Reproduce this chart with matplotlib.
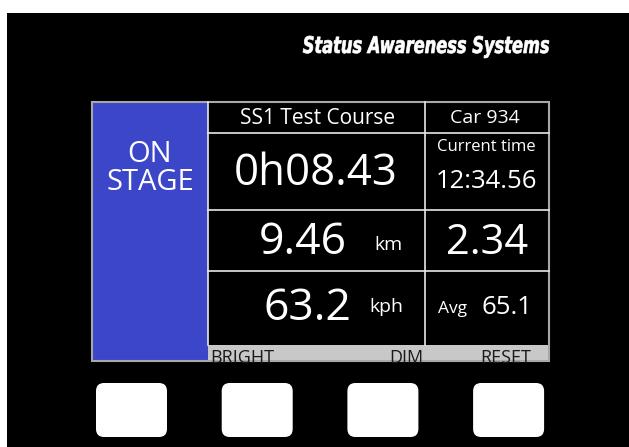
import matplotlib
matplotlib.use("Agg")
import matplotlib.pyplot as plt
from matplotlib.patches import Rectangle, FancyBboxPatch, PathPatch
from matplotlib.textpath import TextPath
from matplotlib.font_manager import FontProperties
from matplotlib.transforms import Affine2D

# dashboard contents
brand = "Status Awareness Systems"
state_lines = ["ON", "STAGE"]
stage_name = "SS1 Test Course"
car_label = "Car 934"
clock_caption = "Current time"
clock_value = "12:34.56"
stage_time = "0h08.43"
distance = "9.46"
distance_unit = "km"
split_value = "2.34"
speed = "63.2"
speed_unit = "kph"
avg_label = "Avg"
avg_speed = "65.1"
soft_keys = ["BRIGHT", "DIM", "RESET"]
n_buttons = 4

W, H = 629, 447
fig = plt.figure(figsize=(W / 100, H / 100), dpi=100)
ax = fig.add_axes([0, 0, 1, 1])
ax.set_xlim(0, W)
ax.set_ylim(H, 0)
ax.axis("off")
fig.patch.set_facecolor("white")

font = "Open Sans"

# black bezel
ax.add_patch(Rectangle((7, 13), W - 7, H - 13, facecolor="black", edgecolor="none"))

# brand logo: condensed bold italic, squeezed into place
fp = FontProperties(family="DejaVu Sans", weight="bold", style="italic")
tp = TextPath((0, 0), brand, size=23, prop=fp)
bb = tp.get_extents()
sx = 246 / bb.width
tr = Affine2D().translate(-bb.x0, 0).scale(sx, -1).translate(303, 53)
ax.add_patch(PathPatch(tr.transform_path(tp), facecolor="white", edgecolor="white",
                       lw=0.5))

# screen frame
left, top, right, bottom = 92, 102, 549, 361
col1, col2 = 208, 425
row1, row2, row3, band = 133, 210, 271, 345

ax.add_patch(Rectangle((left, top), col1 - left, bottom - top, facecolor="#3c46c8",
                       edgecolor="none"))
band_rect = Rectangle((col1, band), right - col1, bottom - band, facecolor="#c8c8c8",
                      edgecolor="none")
ax.add_patch(band_rect)
ax.add_patch(Rectangle((left, top), right - left, bottom - top, facecolor="none",
                       edgecolor="#a8a8a8", lw=1.5))

line_kw = dict(color="#e8e8e8", lw=1.2)
ax.plot([col1, col1], [top, band], **line_kw)
ax.plot([col2, col2], [top, band], **line_kw)
for y in (row1, row2, row3):
    ax.plot([col1, right], [y, y], **line_kw)

tk = dict(color="white", family=font, va="center")
ax.text(150, 154, state_lines[0], fontsize=21, ha="center", **tk)
ax.text(150, 183, state_lines[1], fontsize=21, ha="center", **tk)
ax.text(318, 119, stage_name, fontsize=15, ha="center", **tk)
ax.text(485, 118, car_label, fontsize=14, ha="center", **tk)
ax.text(486, 147, clock_caption, fontsize=12, ha="center", **tk)
ax.text(486, 182, clock_value, fontsize=18.5, ha="center", **tk)
ax.text(316, 174, stage_time, fontsize=31.5, ha="center", **tk)
ax.text(347, 243, distance, fontsize=32, ha="right", **tk)
ax.text(388, 245, distance_unit, fontsize=14, ha="center", **tk)
ax.text(487, 243, split_value, fontsize=30, ha="center", **tk)
ax.text(351, 309, speed, fontsize=32, ha="right", **tk)
ax.text(386, 307, speed_unit, fontsize=14, ha="center", **tk)
ax.text(453, 309, avg_label, fontsize=12.5, ha="center", **tk)
ax.text(507, 308, avg_speed, fontsize=18.5, ha="center", **tk)

key_x = [210, 423, 531]
key_ha = ["left", "right", "right"]
for label, x, ha in zip(soft_keys, key_x, key_ha):
    t = ax.text(x, 363, label, fontsize=13, color="#1a1a1a", family=font, ha=ha,
                va="baseline")
    t.set_clip_path(band_rect)

# hardware buttons
for i in range(n_buttons):
    x0 = 96 + i * 125.7
    ax.add_patch(FancyBboxPatch((x0 + 8, 391), 71 - 16, 54 - 16,
                                boxstyle="round,pad=8", facecolor="white", edgecolor="none"))

fig.savefig("out.png", dpi=100, facecolor=fig.get_facecolor())
